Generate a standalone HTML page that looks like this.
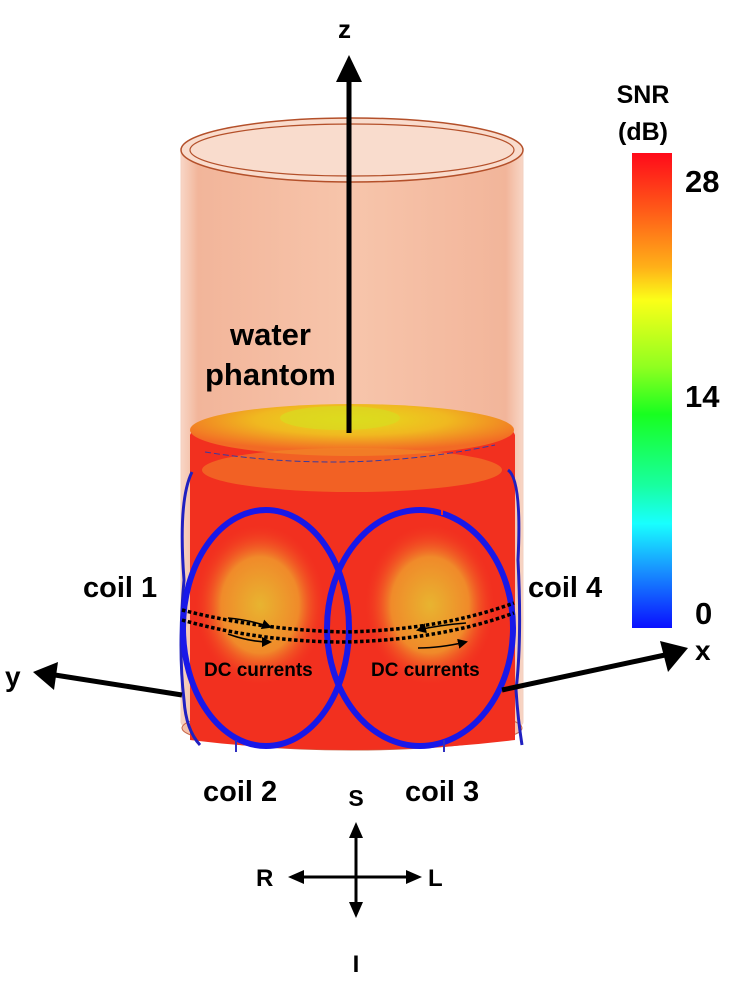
<!DOCTYPE html>
<html><head><meta charset="utf-8"><style>
html,body{margin:0;padding:0;background:#fff;}
svg{display:block;}
text{font-family:"Liberation Sans",sans-serif;font-weight:bold;fill:#000;}
</style></head><body>
<svg width="730" height="997" viewBox="0 0 730 997" xmlns="http://www.w3.org/2000/svg">
<defs>
<linearGradient id="cb" x1="0" y1="0" x2="0" y2="1">
<stop offset="0" stop-color="#ff0a1a"/><stop offset="0.12" stop-color="#ff5a18"/>
<stop offset="0.24" stop-color="#ffb018"/><stop offset="0.31" stop-color="#fbff18"/>
<stop offset="0.45" stop-color="#90ff20"/><stop offset="0.55" stop-color="#18ff20"/>
<stop offset="0.7" stop-color="#18ffa0"/><stop offset="0.78" stop-color="#18ffff"/>
<stop offset="0.88" stop-color="#1890ff"/><stop offset="1" stop-color="#0a10ff"/>
</linearGradient>
<linearGradient id="cyl" x1="0" y1="0" x2="1" y2="0">
<stop offset="0" stop-color="#f8d6c6"/><stop offset="0.05" stop-color="#f2b59a"/>
<stop offset="0.5" stop-color="#f7c5ab"/><stop offset="0.95" stop-color="#f2b59a"/><stop offset="1" stop-color="#f8d6c6"/>
</linearGradient>
<radialGradient id="top" cx="0.5" cy="0.3" r="0.6">
<stop offset="0" stop-color="#e6dc1c"/><stop offset="0.5" stop-color="#f0b820"/><stop offset="1" stop-color="#f26a25"/>
</radialGradient>
<radialGradient id="hot" cx="0.5" cy="0.5" r="0.5">
<stop offset="0" stop-color="#e8b430"/><stop offset="0.6" stop-color="#f08a2a"/><stop offset="1" stop-color="#f23a22" stop-opacity="0"/>
</radialGradient>
<marker id="ah" markerWidth="10" markerHeight="10" refX="8" refY="5" orient="auto" markerUnits="userSpaceOnUse">
<path d="M0,0 L10,5 L0,10 z" fill="#000"/></marker>
</defs>
<path d="M181,150 L181,722 A171,22 0 0 0 523,722 L523,150 Z" fill="url(#cyl)" stroke="#f3d0c0" stroke-width="1"/>
<ellipse cx="352" cy="150" rx="171" ry="32" fill="#f9dccd" stroke="#b4502a" stroke-width="1.5"/>
<ellipse cx="352" cy="150" rx="162" ry="26" fill="none" stroke="#b4502a" stroke-width="1.2"/>
<ellipse cx="352" cy="728" rx="170" ry="22" fill="#f5c0a8" stroke="#c8674a" stroke-width="1"/>
<path d="M190,435 Q200,408 352,405 Q505,408 515,435 L515,740 Q352,760 190,740 Z" fill="#f2301f"/>
<ellipse cx="352" cy="430" rx="162" ry="26" fill="url(#top)"/>
<ellipse cx="340" cy="418" rx="60" ry="12" fill="#d8dc20" opacity="0.7"/>
<ellipse cx="352" cy="470" rx="150" ry="22" fill="#f28a28" opacity="0.55"/>
<ellipse cx="260" cy="605" rx="65" ry="80" fill="url(#hot)"/>
<ellipse cx="430" cy="605" rx="65" ry="80" fill="url(#hot)"/>
<path d="M205,452 Q352,475 495,445" fill="none" stroke="#3a3aa0" stroke-width="1" stroke-dasharray="6,3"/>
<path d="M192,472 Q178,500 184,580 Q178,650 184,700 Q186,730 200,745" fill="none" stroke="#2020c0" stroke-width="3"/>
<path d="M508,470 Q522,480 518,560 Q522,640 516,690 Q518,720 522,745" fill="none" stroke="#2020c0" stroke-width="3"/>
<ellipse cx="266" cy="628" rx="83" ry="118" fill="none" stroke="#1818e8" stroke-width="6"/>
<ellipse cx="420" cy="628" rx="93" ry="118" fill="none" stroke="#1818e8" stroke-width="6"/>
<line x1="234" y1="505" x2="234" y2="515" stroke="#f2301f" stroke-width="2"/>
<line x1="442" y1="505" x2="442" y2="515" stroke="#f2301f" stroke-width="2"/>
<line x1="236" y1="740" x2="236" y2="752" stroke="#3030c0" stroke-width="2"/>
<line x1="444" y1="740" x2="444" y2="752" stroke="#3030c0" stroke-width="2"/>
<g fill="none" stroke="#000" stroke-width="3.5" stroke-dasharray="3.5,2.5">
<path d="M182,610 Q260,630 345,632 Q440,630 514,603"/>
<path d="M182,620 Q260,642 345,642 Q440,640 514,613"/>
</g>
<g fill="none" stroke="#000" stroke-width="1.6">
<path d="M228,618 Q250,620 270,627" marker-end="url(#ah)"/>
<path d="M228,634 Q250,642 270,642" marker-end="url(#ah)"/>
<path d="M466,623 Q440,625 418,630" marker-end="url(#ah)"/>
<path d="M418,648 Q440,648 466,642" marker-end="url(#ah)"/>
</g>
<text x="204" y="676" font-size="19">DC currents</text>
<text x="371" y="676" font-size="19">DC currents</text>
<line x1="349" y1="433" x2="349" y2="80" stroke="#000" stroke-width="5"/>
<path d="M336,82 L349,55 L362,82 z" fill="#000"/>
<text x="338" y="38" font-size="26">z</text>
<line x1="182" y1="695" x2="55" y2="675" stroke="#000" stroke-width="5"/>
<path d="M58,662 L33,672 L54,690 z" fill="#000"/>
<text x="5" y="686" font-size="28">y</text>
<line x1="502" y1="690" x2="665" y2="655" stroke="#000" stroke-width="5"/>
<path d="M660,641 L688,648 L668,672 z" fill="#000"/>
<text x="695" y="660" font-size="28">x</text>
<text x="230" y="345" font-size="31">water</text>
<text x="205" y="385" font-size="31">phantom</text>
<text x="83" y="597" font-size="29">coil 1</text>
<text x="528" y="597" font-size="29">coil 4</text>
<text x="203" y="801" font-size="29">coil 2</text>
<text x="405" y="801" font-size="29">coil 3</text>
<text x="643" y="103" font-size="25" text-anchor="middle">SNR</text>
<text x="643" y="140" font-size="25" text-anchor="middle">(dB)</text>
<rect x="632" y="153" width="40" height="475" fill="url(#cb)"/>
<text x="685" y="192" font-size="31">28</text>
<text x="685" y="407" font-size="31">14</text>
<text x="695" y="624" font-size="31">0</text>
<text x="356" y="806" font-size="23" text-anchor="middle">S</text>
<line x1="356" y1="835" x2="356" y2="905" stroke="#000" stroke-width="3"/>
<path d="M349,838 L356,822 L363,838 z" fill="#000"/>
<path d="M349,902 L356,918 L363,902 z" fill="#000"/>
<line x1="300" y1="877" x2="412" y2="877" stroke="#000" stroke-width="3"/>
<path d="M304,870 L288,877 L304,884 z" fill="#000"/>
<path d="M406,870 L422,877 L406,884 z" fill="#000"/>
<text x="256" y="886" font-size="24">R</text>
<text x="428" y="886" font-size="24">L</text>
<text x="356" y="972" font-size="24" text-anchor="middle">I</text>
</svg>
</body></html>
